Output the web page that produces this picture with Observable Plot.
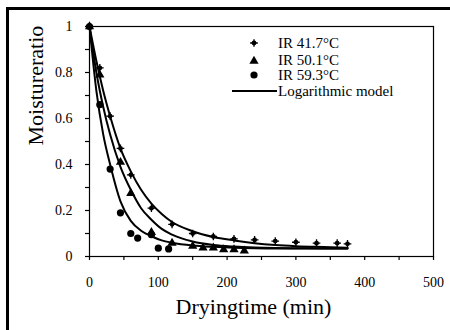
<!DOCTYPE html>
<html>
<head>
<meta charset="utf-8">
<script src="https://cdn.jsdelivr.net/npm/d3@7"></script>
<script src="https://cdn.jsdelivr.net/npm/@observablehq/plot@0.6"></script>
<style>
  html, body { margin: 0; padding: 0; background: #fff; }
  #wrap { position: relative; width: 450px; height: 330px; overflow: hidden; font-family: "Liberation Serif", "Times New Roman", serif; }
  #border { position: absolute; left: 6px; top: 7px; width: 450px; height: 330px; border-top: 3px solid #000; border-left: 3px solid #000; pointer-events: none; }
  #legend { position: absolute; left: 0; top: 0; pointer-events: none; }
  svg text { font-family: "Liberation Serif", "Times New Roman", serif; }
</style>
</head>
<body>
<div id="wrap"><div id="border"></div></div>
<script>
// ---- Data ----
const seriesNames = ["IR 41.7°C", "IR 50.1°C", "IR 59.3°C"];
const modelName = "Logarithmic model";

const t417  = [0, 15, 30, 45, 60, 90, 120, 150, 180, 210, 240, 270, 300, 330, 360, 375];
const mr417 = [1, 0.82, 0.61, 0.47, 0.355, 0.21, 0.14, 0.10, 0.087, 0.077, 0.072, 0.067, 0.062, 0.058, 0.058, 0.055];

const t501  = [0, 15, 45, 60, 90, 120, 150, 165, 180, 195, 210, 225];
const mr501 = [1, 0.79, 0.41, 0.275, 0.105, 0.058, 0.045, 0.038, 0.038, 0.03, 0.03, 0.025];

const t593  = [0, 15, 30, 45, 60, 70, 90, 100, 115];
const mr593 = [1, 0.66, 0.38, 0.19, 0.10, 0.08, 0.095, 0.036, 0.033];

// model curves
const curveT = [0, 10, 20, 30, 45, 60, 75, 90, 105, 120, 150, 180, 210, 240, 270, 300, 340, 375];
const fit417 = [1, 0.85, 0.72, 0.61, 0.47, 0.37, 0.29, 0.23, 0.185, 0.15, 0.11, 0.085, 0.07, 0.058, 0.05, 0.045, 0.041, 0.038];
const fit501 = [1, 0.80, 0.65, 0.53, 0.39, 0.29, 0.21, 0.16, 0.12, 0.095, 0.065, 0.05, 0.043, 0.039, 0.037, 0.036, 0.035, 0.035];
const fit593 = [1, 0.72, 0.53, 0.40, 0.24, 0.155, 0.112, 0.088, 0.07, 0.06, 0.048, 0.042, 0.038, 0.036, 0.035, 0.035, 0.035, 0.035];

const xTicks = [0, 50, 100, 150, 200, 250, 300, 350, 400, 450, 500];
const xTickLabels = [0, 100, 200, 300, 400, 500];
const yTicks = [0, 0.1, 0.2, 0.3, 0.4, 0.5, 0.6, 0.7, 0.8, 0.9, 1];
const yTickLabels = [0, 0.2, 0.4, 0.6, 0.8, 1];
const xTitle = "Dryingtime (min)";
const yTitle = "Moistureratio";

// ---- Build tables ----
const pts = (t, v) => t.map((d, i) => ({t: d, mr: v[i]}));
const p417 = pts(t417, mr417), p501 = pts(t501, mr501), p593 = pts(t593, mr593);
const curves = [fit417, fit501, fit593].flatMap((f, k) => curveT.map((t, i) => ({t, mr: f[i], s: k})));

const font = '"Liberation Serif", "Times New Roman", serif';

const chart = Plot.plot({
  width: 450,
  height: 330,
  marginLeft: 89,
  marginRight: 17,
  marginTop: 26,
  marginBottom: 74,
  style: {fontFamily: font, fontSize: "14px", background: "transparent", color: "#000", overflow: "visible"},
  x: {domain: [0, 500]},
  y: {domain: [0, 1]},
  marks: [
    Plot.frame({stroke: "#000", strokeWidth: 1.2}),
    Plot.axisX({ticks: xTicks, tickSize: 4, tickFormat: () => "", label: null, strokeWidth: 1.2}),
    Plot.axisX({ticks: xTickLabels, tickSize: 0, tickPadding: 21, tickFormat: d => String(d), label: null, fontSize: 14}),
    Plot.axisY({ticks: yTicks, tickSize: 4, tickFormat: () => "", label: null, strokeWidth: 1.2}),
    Plot.axisY({ticks: yTickLabels, tickSize: 0, tickPadding: 17, tickFormat: d => String(+d.toFixed(1)), label: null, fontSize: 14}),
    Plot.line(curves, {x: "t", y: "mr", z: "s", curve: "monotone-x", stroke: "#000", strokeWidth: 2}),
    // IR 41.7 : small dot with short cross arms
    Plot.dot(p417, {x: "t", y: "mr", symbol: "plus", r: 2.6, stroke: "#000", strokeWidth: 1.3}),
    Plot.dot(p417, {x: "t", y: "mr", symbol: "circle", r: 2.4, fill: "#000"}),
    // IR 50.1 : filled triangles
    Plot.dot(p501, {x: "t", y: "mr", symbol: "triangle2", r: 4.4, fill: "#000"}),
    // IR 59.3 : filled circles
    Plot.dot(p593, {x: "t", y: "mr", symbol: "circle", r: 3.6, fill: "#000"}),
    // axis titles
    Plot.text([xTitle], {frameAnchor: "bottom", dx: -8, dy: 57, fontSize: 22, fill: "#000"}),
    Plot.text([yTitle], {frameAnchor: "left", rotate: -90, dx: -54, dy: 4, fontSize: 22, fill: "#000"})
  ]
});
document.getElementById("wrap").prepend(chart);

// ---- Legend overlay ----
const leg = d3.select("#wrap").append("svg")
  .attr("id", "legend").attr("width", 450).attr("height", 330);
const rowsY = [43, 60, 75, 91];
const mx = 254, tx = 278;
const g = leg.append("g").attr("font-family", font).attr("font-size", 15).attr("fill", "#000");
// symbols
g.append("path").attr("transform", `translate(${mx},${rowsY[0]})`)
  .attr("d", d3.symbol(d3.symbolPlus, Math.PI * 2.6 * 2.6)()).attr("fill", "none").attr("stroke", "#000").attr("stroke-width", 1.3);
g.append("circle").attr("cx", mx).attr("cy", rowsY[0]).attr("r", 2.4);
g.append("path").attr("transform", `translate(${mx},${rowsY[1] + 1})`)
  .attr("d", d3.symbol(d3.symbolTriangle2, Math.PI * 4.4 * 4.4)());
g.append("circle").attr("cx", mx).attr("cy", rowsY[2]).attr("r", 3.6);
g.append("line").attr("x1", 232).attr("x2", 277).attr("y1", rowsY[3]).attr("y2", rowsY[3])
  .attr("stroke", "#000").attr("stroke-width", 2);
const labels = [...seriesNames, modelName];
labels.forEach((s, i) => {
  g.append("text").attr("x", tx).attr("y", rowsY[i]).attr("dy", "0.35em").text(s);
});
</script>
</body>
</html>
